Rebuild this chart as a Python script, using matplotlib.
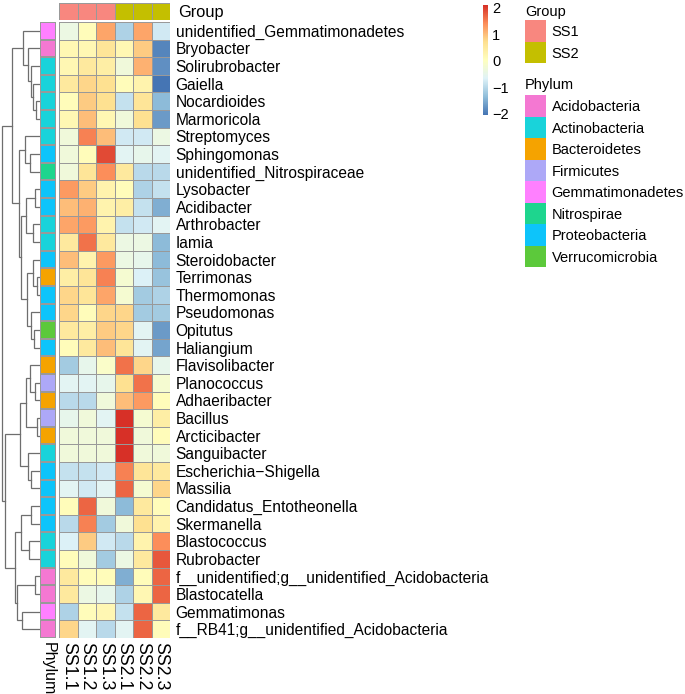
import numpy as np
import matplotlib
matplotlib.use("Agg")
import matplotlib.pyplot as plt
from matplotlib.colors import LinearSegmentedColormap, ListedColormap

plt.rcParams['font.family'] = ['Liberation Sans', 'DejaVu Sans']

# ---------------- data ----------------
genera = [
    "unidentified_Gemmatimonadetes", "Bryobacter", "Solirubrobacter", "Gaiella",
    "Nocardioides", "Marmoricola", "Streptomyces", "Sphingomonas",
    "unidentified_Nitrospiraceae", "Lysobacter", "Acidibacter", "Arthrobacter",
    "Iamia", "Steroidobacter", "Terrimonas", "Thermomonas", "Pseudomonas",
    "Opitutus", "Haliangium", "Flavisolibacter", "Planococcus", "Adhaeribacter",
    "Bacillus", "Arcticibacter", "Sanguibacter", "Escherichia\u2212Shigella",
    "Massilia", "Candidatus_Entotheonella", "Skermanella", "Blastococcus",
    "Rubrobacter", "f__unidentified;g__unidentified_Acidobacteria",
    "Blastocatella", "Gemmatimonas", "f__RB41;g__unidentified_Acidobacteria",
]
samples = ["SS1.1", "SS1.2", "SS1.3", "SS2.1", "SS2.2", "SS2.3"]
sample_group = ["SS1", "SS1", "SS1", "SS2", "SS2", "SS2"]

zscores = [
    [-0.4, 0.1, 1.2, -1.1, 1.2, -0.8],
    [0.2, 0.2, 0.6, 0.2, 0.9, -1.9],
    [0.2, 0.5, 0.4, -0.3, 1.1, -1.8],
    [0.5, 0.8, 0.7, 0.1, 0.3, -2.1],
    [0.1, 0.9, 0.7, -0.9, 0.6, -1.4],
    [0.2, 1.0, 0.2, -0.3, 0.7, -1.7],
    [-0.3, 1.5, 1.0, -0.8, -0.8, -0.4],
    [-0.3, 0.1, 1.9, -0.6, -0.5, -0.6],
    [-0.3, 0.6, 1.4, 0.5, -1.0, -1.0],
    [1.3, 0.9, 0.3, 0.1, -1.1, -0.9],
    [1.0, 1.1, 0.3, 0.4, -0.9, -1.5],
    [1.2, 1.3, 0.3, -0.9, -0.8, -0.6],
    [0.5, 1.6, 0.5, -0.4, -0.4, -1.4],
    [1.0, 0.3, 1.3, -0.4, -0.5, -1.4],
    [0.4, 0.6, 1.5, -0.2, -0.7, -1.3],
    [0.8, 0.6, 1.2, -0.2, -1.2, -1.1],
    [0.8, 0.1, 0.8, 0.8, -1.2, -1.2],
    [0.5, 0.4, 0.9, 0.8, -0.6, -1.7],
    [0.1, 0.5, 1.0, 0.6, -0.6, -1.6],
    [-1.2, -0.5, -0.1, 1.6, 0.8, -0.5],
    [-0.6, -0.6, -0.5, 0.7, 1.6, -0.2],
    [-1.0, -1.0, -0.3, 1.0, 1.3, 0.1],
    [-0.5, -0.3, -0.6, 2.1, -0.2, 0.4],
    [-0.3, -0.3, -0.3, 2.1, -0.3, 0.1],
    [-0.3, -0.3, -0.3, 2.1, -0.3, -0.3],
    [-0.9, -0.9, -0.8, 1.5, 0.6, 0.5],
    [-0.6, -0.8, -0.6, 1.7, -0.2, 0.8],
    [0.1, 1.7, -0.3, -1.4, 0.5, 0.1],
    [-1.0, 1.5, -1.2, -0.3, 0.7, 0.3],
    [-0.7, 0.9, -0.8, -1.0, 0.3, 1.4],
    [0.1, -0.3, -1.2, -0.4, 0.5, 1.8],
    [0.5, 0.1, 0.1, -1.5, 0.1, 1.7],
    [0.5, -0.4, -0.5, -1.1, 0.2, 1.7],
    [-1.1, 0.1, 0.2, -0.9, 1.7, 0.5],
    [0.8, -0.6, -1.0, -0.6, 1.7, 0.1],
]

row_phylum = [
    "Gemmatimonadetes", "Acidobacteria", "Actinobacteria", "Actinobacteria",
    "Actinobacteria", "Actinobacteria", "Actinobacteria", "Proteobacteria",
    "Nitrospirae", "Proteobacteria", "Proteobacteria", "Actinobacteria",
    "Actinobacteria", "Proteobacteria", "Bacteroidetes", "Proteobacteria",
    "Proteobacteria", "Verrucomicrobia", "Proteobacteria", "Bacteroidetes",
    "Firmicutes", "Bacteroidetes", "Firmicutes", "Bacteroidetes",
    "Actinobacteria", "Proteobacteria", "Proteobacteria", "Proteobacteria",
    "Proteobacteria", "Actinobacteria", "Actinobacteria", "Acidobacteria",
    "Acidobacteria", "Gemmatimonadetes", "Acidobacteria",
]

phyla = ["Acidobacteria", "Actinobacteria", "Bacteroidetes", "Firmicutes",
         "Gemmatimonadetes", "Nitrospirae", "Proteobacteria", "Verrucomicrobia"]
phylum_colors = ["#F478D2", "#19D3DA", "#F5A300", "#ADA8F7",
                 "#FF80FF", "#1ED58E", "#0DC4FA", "#5CC93B"]
groups = ["SS1", "SS2"]
group_colors = ["#F8877F", "#C4BF00"]

# row dendrogram: (left, right, merge height); leaves are row indices
A4 = (3, (4, 5, 4), 7)
A3 = (2, A4, 9)
A2 = (1, A3, 12)
A = (0, A2, 17)
B1 = (6, (7, 8, 10), 15)
B2a = ((9, 10, 5), (11, 12, 7), 14)
B2b = ((13, (14, 15, 3), 7), (16, (17, 18, 6), 9), 13)
B2 = (B2a, B2b, 19)
B = (B1, B2, 21)
T = (A, B, 28)
U1a = ((19, (20, 21, 5), 10), (22, 23, 3), 14)
U1b = (24, (25, 26, 9), 12)
U1 = (U1a, U1b, 20)
U2a = ((27, 28, 9), (29, 30, 11), 19)
U2b = ((31, 32, 5), (33, 34, 18), 23)
U2 = (U2a, U2b, 25)
U = (U1, U2, 35)
TREE = (T, U, 38)

legend_ticks = [-2, -1, 0, 1, 2]

# ---------------- figure ----------------
W, H = 685, 694
fig = plt.figure(figsize=(W / 100, H / 100), dpi=100)


def ax_px(x0, y0, x1, y1):
    return fig.add_axes([x0 / W, 1 - y1 / H, (x1 - x0) / W, (y1 - y0) / H])


cmap = LinearSegmentedColormap.from_list(
    "rdylbu_r", ["#4575B4", "#91BFDB", "#E0F3F8", "#FFFFBF",
                 "#FEE090", "#FC8D59", "#D73027"])
vmin, vmax = -2.05, 2.1
grid = "#999999"
nrow, ncol = len(genera), len(samples)
lab_fs = 11.2

# heatmap
hx0, hx1, hy0, hy1 = 59, 170, 22, 638
ax = ax_px(hx0, hy0, hx1, hy1)
M = np.array(zscores)
ax.pcolormesh(np.arange(ncol + 1), np.arange(nrow + 1), M, cmap=cmap,
              vmin=vmin, vmax=vmax, edgecolors=grid, linewidth=0.6)
ax.set_xlim(0, ncol)
ax.set_ylim(nrow, 0)
ax.yaxis.tick_right()
ax.set_yticks(np.arange(nrow) + 0.5)
ax.set_yticklabels(genera, fontsize=lab_fs)
ax.set_xticks(np.arange(ncol) + 0.5)
ax.set_xticklabels(samples, rotation=270, fontsize=12.8)
ax.tick_params(axis="y", length=0, pad=4)
ax.tick_params(axis="x", length=0, pad=3)
for s in ax.spines.values():
    s.set_visible(False)

# group annotation bar
axg = ax_px(hx0, 3, hx1, 20)
gidx = np.array([[groups.index(g) for g in sample_group]])
axg.pcolormesh(np.arange(ncol + 1), [0, 1], gidx, cmap=ListedColormap(group_colors),
               vmin=-0.5, vmax=1.5, edgecolors=grid, linewidth=0.4)
axg.set_xlim(0, ncol)
axg.set_ylim(1, 0)
axg.set_xticks([])
axg.yaxis.tick_right()
axg.set_yticks([0.5])
axg.set_yticklabels(["Group"], fontsize=lab_fs + 0.6)
axg.tick_params(length=0, pad=6)
for s in axg.spines.values():
    s.set_visible(False)

# phylum annotation column
axp = ax_px(40, hy0, 56, hy1)
pidx = np.array([[phyla.index(p)] for p in row_phylum])
axp.pcolormesh([0, 1], np.arange(nrow + 1), pidx, cmap=ListedColormap(phylum_colors),
               vmin=-0.5, vmax=len(phyla) - 0.5, edgecolors=grid, linewidth=0.3)
axp.set_xlim(0, 1)
axp.set_ylim(nrow, 0)
axp.set_yticks([])
axp.set_xticks([0.5])
axp.set_xticklabels(["Phylum"], rotation=270, fontsize=11.5)
axp.tick_params(length=0, pad=3)
for s in axp.spines.values():
    s.set_visible(False)

# dendrogram
axd = ax_px(0, hy0, 40, hy1)


def draw(node):
    if isinstance(node, int):
        return node + 0.5, 0.0
    l, r, h = node
    yl, hl = draw(l)
    yr, hr = draw(r)
    axd.plot([hl, h, h, hr], [yl, yl, yr, yr], color="#6E6E6E", lw=0.9,
             solid_joinstyle="miter")
    return (yl + yr) / 2, h


draw(TREE)
axd.set_xlim(40, 0)
axd.set_ylim(nrow, 0)
axd.axis("off")

# colour legend
axc = ax_px(483, 5, 488, 115)
grad = np.linspace(vmin, vmax, 256).reshape(-1, 1)
axc.imshow(grad, aspect="auto", cmap=cmap, vmin=vmin, vmax=vmax, origin="lower",
           extent=[0, 1, vmin, vmax])
axc.set_xticks([])
axc.yaxis.tick_right()
axc.set_yticks(legend_ticks)
axc.set_yticklabels([("\u2212" + str(-t)) if t < 0 else str(t) for t in legend_ticks],
                    fontsize=10.5)
axc.tick_params(length=0, pad=3)
for s in axc.spines.values():
    s.set_visible(False)

# group legend + phylum legend
leg_fs = 10.5
fig.text(525 / W, 1 - 12 / H, "Group", fontsize=leg_fs, va="center", ha="left")
axgl = ax_px(525, 20, 546, 63)
axgl.pcolormesh([0, 1], np.arange(len(groups) + 1),
                np.arange(len(groups)).reshape(-1, 1), cmap=ListedColormap(group_colors),
                vmin=-0.5, vmax=len(groups) - 0.5)
axgl.set_xlim(0, 1)
axgl.set_ylim(len(groups), 0)
axgl.set_xticks([])
axgl.yaxis.tick_right()
axgl.set_yticks(np.arange(len(groups)) + 0.5)
axgl.set_yticklabels(groups, fontsize=leg_fs)
axgl.tick_params(length=0, pad=4)
for s in axgl.spines.values():
    s.set_visible(False)

fig.text(525 / W, 1 - 85 / H, "Phylum", fontsize=leg_fs, va="center", ha="left")
axpl = ax_px(525, 95, 546, 267)
axpl.pcolormesh([0, 1], np.arange(len(phyla) + 1),
                np.arange(len(phyla)).reshape(-1, 1), cmap=ListedColormap(phylum_colors),
                vmin=-0.5, vmax=len(phyla) - 0.5)
axpl.set_xlim(0, 1)
axpl.set_ylim(len(phyla), 0)
axpl.set_xticks([])
axpl.yaxis.tick_right()
axpl.set_yticks(np.arange(len(phyla)) + 0.5)
axpl.set_yticklabels(phyla, fontsize=leg_fs)
axpl.tick_params(length=0, pad=4)
for s in axpl.spines.values():
    s.set_visible(False)

fig.savefig("out.png", dpi=100, facecolor="white")
